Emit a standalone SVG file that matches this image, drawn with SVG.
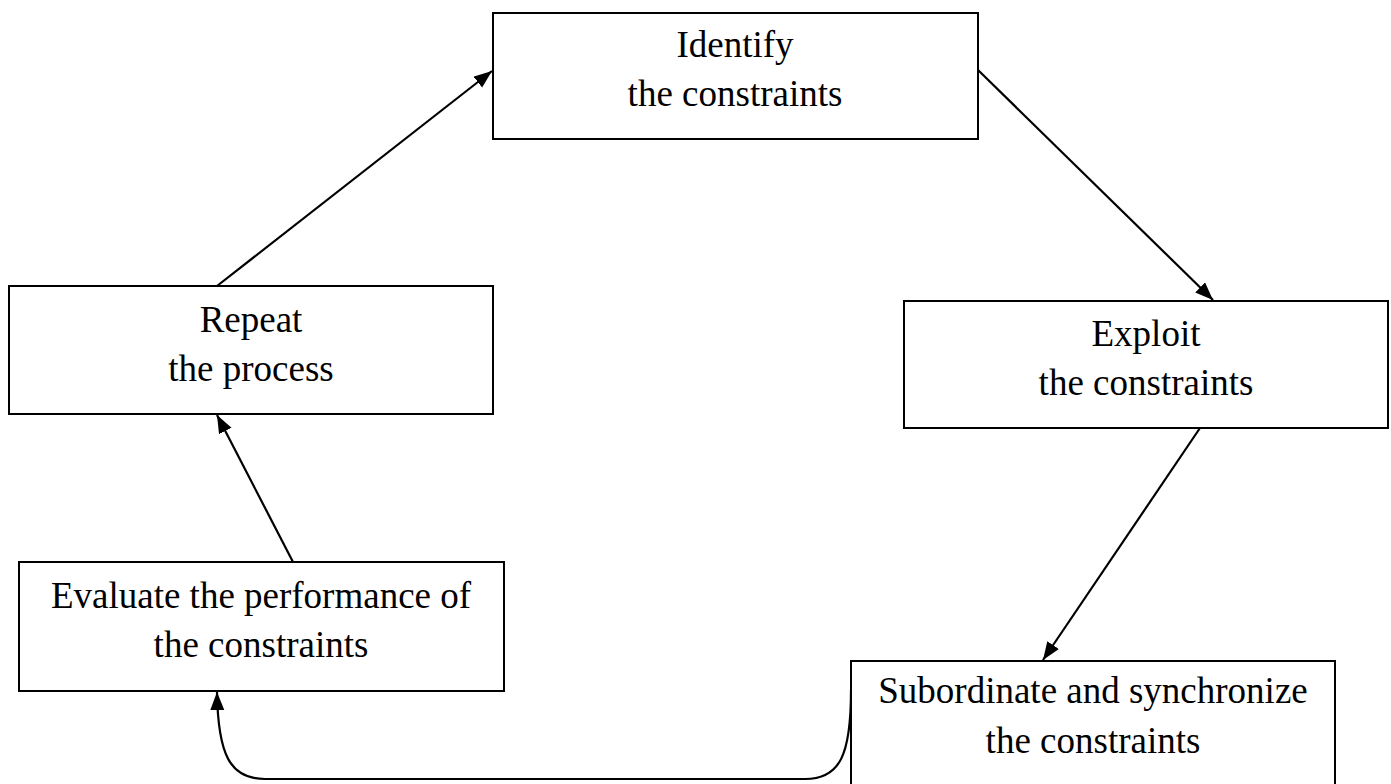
<svg xmlns="http://www.w3.org/2000/svg" width="1391" height="784" viewBox="0 0 1391 784">
  <style>
    .box { fill: #ffffff; stroke: #000000; stroke-width: 2; }
    .lbl { font-family: "Liberation Serif", "Times New Roman", serif; font-size: 37px; fill: #000000; text-anchor: middle; }
    .conn { fill: none; stroke: #000000; stroke-width: 2.2; }
  </style>
  <defs>
    <marker id="arrow" markerUnits="userSpaceOnUse" markerWidth="20" markerHeight="16" refX="18" refY="7" orient="auto">
      <path d="M0,0 L18,7 L0,14 Z" fill="#000000"/>
    </marker>
  </defs>
  <rect width="1391" height="784" fill="#ffffff"/>
  <g id="connectors">
    <line class="conn" x1="217" y1="286" x2="492" y2="71" marker-end="url(#arrow)"/>
    <line class="conn" x1="978" y1="70" x2="1213" y2="300" marker-end="url(#arrow)"/>
    <line class="conn" x1="1200" y1="428" x2="1043" y2="660" marker-end="url(#arrow)"/>
    <line class="conn" x1="293" y1="562" x2="217" y2="415" marker-end="url(#arrow)"/>
    <path class="conn" d="M851,690 C851,755 840,779 805,779 L265,779 C230,779 218,755 217,692" marker-end="url(#arrow)"/>
  </g>
  <g id="identify">
    <rect class="box" x="493" y="13" width="485" height="126"/>
    <text class="lbl" x="735" y="57">Identify</text>
    <text class="lbl" x="735" y="106">the constraints</text>
  </g>
  <g id="exploit">
    <rect class="box" x="904" y="301" width="484" height="127"/>
    <text class="lbl" x="1146" y="346">Exploit</text>
    <text class="lbl" x="1146" y="395">the constraints</text>
  </g>
  <g id="subordinate">
    <rect class="box" x="851" y="661" width="484" height="140"/>
    <text class="lbl" x="1093" y="703">Subordinate and synchronize</text>
    <text class="lbl" x="1093" y="753">the constraints</text>
  </g>
  <g id="evaluate">
    <rect class="box" x="19" y="562" width="485" height="129"/>
    <text class="lbl" x="261" y="608">Evaluate the performance of</text>
    <text class="lbl" x="261" y="657">the constraints</text>
  </g>
  <g id="repeat">
    <rect class="box" x="9" y="286" width="484" height="128"/>
    <text class="lbl" x="251" y="332">Repeat</text>
    <text class="lbl" x="251" y="381">the process</text>
  </g>
</svg>
